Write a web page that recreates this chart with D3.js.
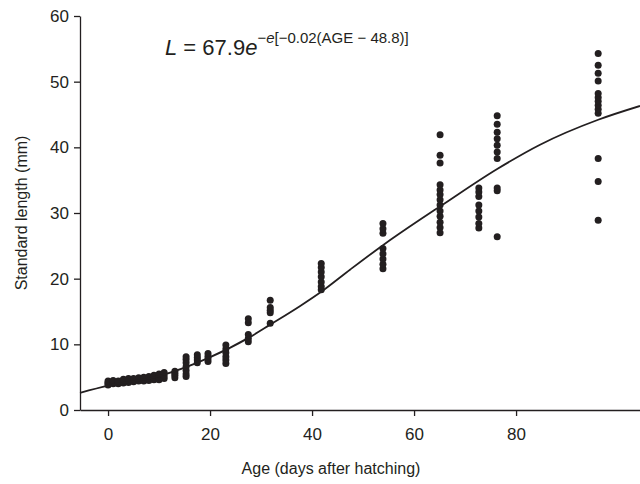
<!DOCTYPE html>
<html>
<head>
<meta charset="utf-8">
<script src="https://cdn.jsdelivr.net/npm/d3@7"></script>
<style>
  body { margin: 0; background: #fff; }
  svg { display: block; font-family: "Liberation Sans", Arial, sans-serif; }
</style>
</head>
<body>
<div id="chart"></div>
<script>
// sampling ages (days after hatching) and the standard lengths measured at each
const sampleAges = [0, 1, 2, 3, 4, 5, 6, 7, 8, 9, 10, 11,
  13.1, 15.3, 17.5, 19.6, 23.1, 27.5, 31.8, 41.8, 53.9, 65.1, 72.7, 76.3, 96.1];
const sampleLengths = [
  [3.8, 4.0, 4.2, 4.4],
  [4.0, 4.2, 4.5],
  [4.0, 4.2, 4.4],
  [4.1, 4.4, 4.7],
  [4.2, 4.5, 4.8],
  [4.3, 4.5, 4.8],
  [4.4, 4.6, 4.9],
  [4.4, 4.7, 5.0],
  [4.5, 4.8, 5.1],
  [4.6, 4.9, 5.3],
  [4.6, 5.0, 5.5],
  [4.8, 5.2, 5.7],
  [4.9, 5.3, 5.6, 5.9],
  [5.1, 5.5, 6.0, 6.6, 7.2, 7.7, 8.1],
  [7.2, 7.6, 8.0, 8.4],
  [7.4, 7.8, 8.2, 8.6],
  [7.1, 7.6, 8.1, 8.7, 9.3, 9.9],
  [10.4, 10.9, 11.5, 13.3, 13.9],
  [13.2, 14.8, 15.2, 15.6, 16.7],
  [18.3, 18.8, 19.5, 20.3, 21.0, 21.7, 22.3],
  [21.5, 22.2, 23.0, 23.8, 24.6, 26.9, 27.6, 28.4],
  [27.0, 27.8, 28.6, 29.5, 30.3, 31.2, 32.0, 32.8, 33.5, 34.3, 37.6, 38.8, 41.9],
  [27.7, 28.4, 29.4, 30.3, 31.2, 32.5, 33.2, 33.8],
  [26.4, 33.4, 33.8, 38.3, 39.3, 40.3, 41.3, 42.3, 43.5, 44.8],
  [28.9, 34.8, 38.3, 45.2, 45.8, 46.4, 47.0, 47.6, 48.2, 50.1, 51.3, 52.5, 54.3]
];

// fitted growth curve
const fitAges = [-5.5, 0, 9.2, 19.6, 27.8, 31.8, 37.6, 41.8, 47.5, 53.9, 61.2, 65.1, 76.3, 84.7, 96.1, 104.3];
const fitLengths = [2.6, 3.7, 5.0, 7.9, 11.1, 13.0, 15.8, 18.0, 21.4, 25.1, 29.0, 31.0, 36.7, 40.4, 44.2, 46.3];

const xTicks = [0, 20, 40, 60, 80];
const yTicks = [0, 10, 20, 30, 40, 50, 60];

const width = 640;
const height = 484;
const margin = {top: 16, right: 0, bottom: 74, left: 80};
const ink = '#231f20';

const svg = d3.select('#chart')
  .append('svg')
    .attr('width', width)
    .attr('height', height)
    .attr('viewBox', [0, 0, width, height]);

const xScale = d3.scaleLinear()
  .domain([-5.5, 104.3])
  .range([margin.left, width - margin.right]);
const yScale = d3.scaleLinear()
  .domain([0, 60])
  .range([height - margin.bottom, margin.top]);

// axes
const xAxis = svg.append('g')
  .attr('transform', `translate(0, ${yScale(0)})`)
  .call(d3.axisBottom(xScale).tickValues(xTicks).tickSize(6).tickSizeOuter(0).tickPadding(12));
const yAxis = svg.append('g')
  .attr('transform', `translate(${margin.left}, 0)`)
  .call(d3.axisLeft(yScale).tickValues(yTicks).tickSize(6).tickSizeOuter(0).tickPadding(5));

[xAxis, yAxis].forEach(ax => {
  ax.selectAll('path, line').attr('stroke', ink).attr('stroke-width', 1.3);
  ax.selectAll('text')
    .attr('fill', ink)
    .style('font-size', '17px')
    .style('font-family', '"Liberation Sans", Arial, sans-serif');
});

// points
const points = [];
sampleAges.forEach((age, i) => {
  sampleLengths[i].forEach(len => points.push({age, len}));
});

svg.append('g')
  .attr('fill', ink)
  .selectAll('circle')
  .data(points)
  .join('circle')
    .attr('cx', d => xScale(d.age))
    .attr('cy', d => yScale(d.len))
    .attr('r', 3.5);

// fitted curve
const line = d3.line()
  .x((d, i) => xScale(fitAges[i]))
  .y(d => yScale(d))
  .curve(d3.curveMonotoneX);

svg.append('path')
  .datum(fitLengths)
  .attr('fill', 'none')
  .attr('stroke', ink)
  .attr('stroke-width', 1.8)
  .attr('d', line);

// axis titles
svg.append('text')
  .attr('x', 331)
  .attr('y', 474)
  .attr('text-anchor', 'middle')
  .attr('fill', ink)
  .style('font-size', '16px')
  .text('Age (days after hatching)');

svg.append('text')
  .attr('transform', 'translate(27, 213) rotate(-90)')
  .attr('text-anchor', 'middle')
  .attr('fill', ink)
  .style('font-size', '16px')
  .text('Standard length (mm)');

// equation
const eq = svg.append('text')
  .attr('x', 165)
  .attr('y', 55)
  .attr('fill', ink)
  .style('font-size', '22px');
eq.append('tspan').style('font-style', 'italic').text('L');
eq.append('tspan').text(' = 67.9');
eq.append('tspan').style('font-style', 'italic').text('e');
eq.append('tspan').attr('dy', -12).style('font-size', '15px').text('\u2212');
eq.append('tspan').style('font-size', '15px').style('font-style', 'italic').text('e');
eq.append('tspan').style('font-size', '15px').text('[\u22120.02(AGE \u2212 48.8)]');
</script>
</body>
</html>
